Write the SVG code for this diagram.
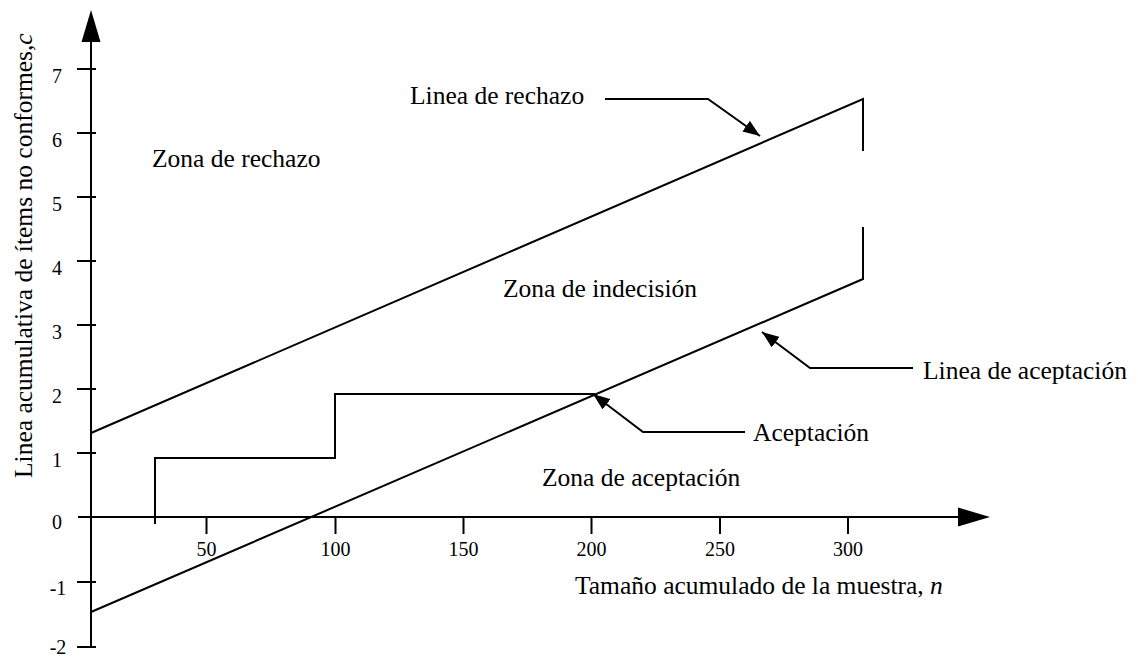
<svg xmlns="http://www.w3.org/2000/svg" width="1138" height="657" viewBox="0 0 1138 657">
<defs>
<style>
.ln{fill:none;stroke:#000;stroke-width:2}
.t{font-family:"Liberation Serif","Times New Roman",serif;font-size:25.5px;fill:#000}
.tk{font-family:"Liberation Serif","Times New Roman",serif;font-size:20px;fill:#000;text-anchor:middle}
</style>
<marker id="ah" viewBox="0 0 17 13" refX="17" refY="6.5" markerWidth="17" markerHeight="13" markerUnits="userSpaceOnUse" orient="auto">
<path d="M0,0 L17,6.5 L0,13 Z" fill="#000"/>
</marker>
</defs>
<rect width="1138" height="657" fill="#fff"/>
<g id="axes">
<line class="ln" x1="91" y1="648" x2="91" y2="40"/>
<path d="M91,10 L81.5,42 L100.5,42 Z" fill="#000"/>
<line class="ln" x1="78" y1="517" x2="960" y2="517"/>
<path d="M990,517 L958,507.5 L958,526.5 Z" fill="#000"/>
<g id="yticks">
<path class="ln" d="M77,69H96M77,133H96M77,197H96M77,261H96M77,325H96M77,389H96M77,453H96M77,582H96M77,647H96"/>
<text class="tk" x="57" y="83">7</text>
<text class="tk" x="57" y="147">6</text>
<text class="tk" x="57" y="211">5</text>
<text class="tk" x="57" y="275">4</text>
<text class="tk" x="57" y="339">3</text>
<text class="tk" x="57" y="403">2</text>
<text class="tk" x="57" y="467">1</text>
<text class="tk" x="57" y="529">0</text>
<text class="tk" x="58" y="595">-1</text>
<text class="tk" x="58" y="654">-2</text>
</g>
<g id="xticks">
<path class="ln" d="M206.5,517V534M335.5,517V534M463.5,517V534M591.5,517V534M720,517V534M848,517V534"/>
<text class="tk" x="206.5" y="556">50</text>
<text class="tk" x="335.5" y="556">100</text>
<text class="tk" x="463.5" y="556">150</text>
<text class="tk" x="591.5" y="556">200</text>
<text class="tk" x="720" y="556">250</text>
<text class="tk" x="848" y="556">300</text>
</g>
<text class="t" transform="translate(32,478) rotate(-90)">Linea acumulativa de ítems no conformes,<tspan font-style="italic">c</tspan></text>
<text class="t" x="575" y="594">Tamaño acumulado de la muestra, <tspan font-style="italic">n</tspan></text>
</g>
<g id="lines">
<path id="rechazo-line" class="ln" d="M91,433 L863,99 L863,151"/>
<path id="aceptacion-line" class="ln" d="M91,612 L863,279 L863,227"/>
<path id="step" class="ln" d="M155,524 V458 H335 V394 H595"/>
</g>
<g id="zones">
<text class="t" x="152" y="167">Zona de rechazo</text>
<text class="t" x="503" y="297">Zona de indecisión</text>
<text class="t" x="542" y="486">Zona de aceptación</text>
</g>
<g id="connectors">
<path class="ln" d="M605,99 H708 L760,136" marker-end="url(#ah)"/>
<path class="ln" d="M745,432 H643 L593,394" marker-end="url(#ah)"/>
<path class="ln" d="M913,368 H810 L762,332" marker-end="url(#ah)"/>
</g>
<g id="labels">
<text class="t" x="410" y="104">Linea de rechazo</text>
<text class="t" x="753" y="441">Aceptación</text>
<text class="t" x="923" y="379">Linea de aceptación</text>
</g>
</svg>
